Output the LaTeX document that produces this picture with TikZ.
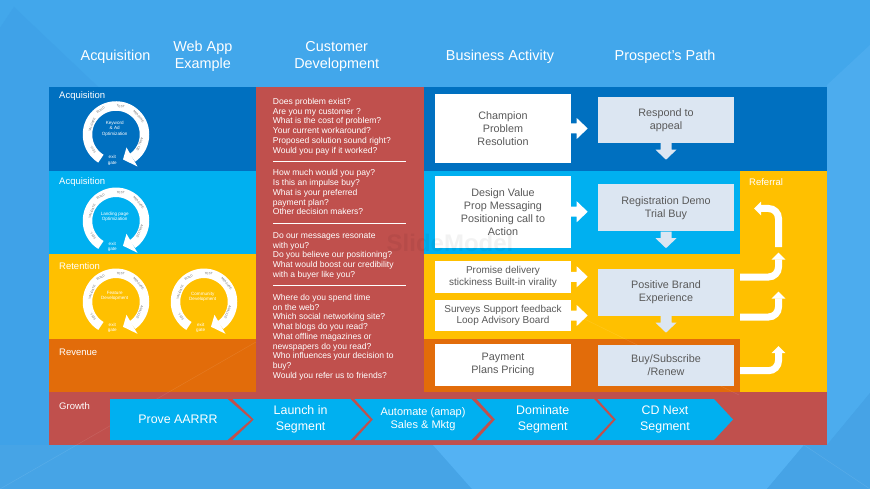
\documentclass[tikz,border=0pt]{standalone}
\usepackage{fontspec}
\setmainfont{Liberation Sans}
\usetikzlibrary{arrows.meta}
\definecolor{bgblue}{RGB}{66,167,235}
\definecolor{bgdark}{RGB}{63,162,232}
\definecolor{bglow}{RGB}{70,164,230}
\definecolor{bglight}{RGB}{84,178,243}
\definecolor{bgside}{RGB}{76,172,238}
\definecolor{bgcorner}{RGB}{70,163,230}
\definecolor{dkblue}{RGB}{0,112,192}
\definecolor{ltblue}{RGB}{0,176,240}
\definecolor{amber}{RGB}{255,192,0}
\definecolor{rust}{RGB}{226,108,10}
\definecolor{brick}{RGB}{192,80,77}
\definecolor{pale}{RGB}{220,230,242}
\definecolor{ink}{RGB}{89,89,89}
\definecolor{ringink}{RGB}{110,110,110}
\newcommand{\fsz}[2]{\fontsize{#1}{#2}\selectfont}
\tikzset{
  head/.style={text=white,font=\fsz{14.4}{17},align=center,inner sep=0pt},
  bandlabel/.style={text=white,font=\fsz{9.5}{11},anchor=west,inner sep=0pt},
  question/.style={text=white,font=\fsz{8.55}{9.77},align=left,anchor=north west,inner sep=0pt},
  sepline/.style={draw=white,line width=0.7pt},
  bizbox/.style={fill=white,text=ink,font=\fsz{10.8}{13},align=center,inner sep=0pt,minimum width=136pt},
  pathbox/.style={fill=pale,text=ink,font=\fsz{10.8}{13},align=center,inner sep=0pt,minimum width=136pt},
  chevtext/.style={text=white,font=\fsz{12.4}{16},align=center,inner sep=0pt},
  chevsmall/.style={font=\fsz{11}{13.4}},
  ringtext/.style={text=white,font=\fsz{4.6}{5.4},align=center,inner sep=0pt},
  ringword/.style={text=ringink,font=\fsz{3.1}{4},inner sep=0pt},
  bendarrow/.style={draw=white,line width=7pt,rounded corners=10pt,-{Triangle[length=7pt,width=13.5pt]}},
  chevfill/.style={fill=ltblue},
  faintline/.style={white,opacity=.1,line width=.5pt}
}
% block arrow to the right of a box
\newcommand{\rightblock}[1]{\fill[white] ([yshift=-5pt]#1.east) -- ++(5.5,0) -- ++(0,5.5) -- ++(11,-10.5) -- ++(-11,-10.5) -- ++(0,5.5) -- ([yshift=5pt]#1.east) -- cycle;}
% block arrow below a box
\newcommand{\downblock}[1]{\fill[pale] ([xshift=-5.5pt]#1.south) -- ++(0,6.5) -- ++(-5,0) -- ++(10.5,10) -- ++(10.5,-10) -- ++(-5,0) -- ([xshift=5.5pt]#1.south) -- cycle;}
% circular arrow: #1 name prefix, #2 x, #3 y, #4 label, #5 y of label, #6 dx of exit gate
\newcommand{\cyclering}[6]{%
  \begin{scope}[shift={(#2,#3)}]
    \draw[white,line width=9.5pt] plot[domain=122:415,samples=80,smooth] ({28.5*cos(\x)},{28.5*sin(\x)});
    \fill[white] (10.5,13) -- (21.5,32) -- (7,25) -- cycle;
    \node[ringword,rotate=68] at (-24,-9.8) {VALIDATE};
    \node[ringword,rotate=32] at (-15.3,-24.2) {BUILD};
    \node[ringword,rotate=-9] at (4.7,-28.2) {TEST};
    \node[ringword,rotate=-51] at (22.7,-18.2) {MEASURE};
    \node[ringword,rotate=-113] at (23.7,10.2) {ANALYZE};
    \node[ringword,rotate=125] at (-23,15.2) {SELL};
    \node[ringtext] (#1c) at (-1.3,#5) {#4};
    \node[ringtext] (#1x) at (#6,26) {exit\\gate};
  \end{scope}}
% chevron: [#1 text style], #2 name, #3 left, #4 notch, #5 shoulder, #6 tip, #7 text centre x, #8 text
\newcommand{\chevron}[8][]{%
  \fill[chevfill] (#3,399) -- (#5,399) -- (#6,419.5) -- (#5,440) -- (#3,440) -- (#4,419.5) -- cycle;
  \node[chevtext,#1] (#2) at (#7,419) {#8};}
\begin{document}
\begin{tikzpicture}[x=1pt,y=-1pt]
\useasboundingbox (0,0) rectangle (870,489);
% background facets
\fill[bgblue] (0,0) rectangle (870,489);
\fill[bgdark] (0,28) -- (14,7) -- (112,100) -- (49,445) -- (0,445) -- cycle;
\fill[bglow] (0,445) rectangle (433,489);
\fill[bglow] (433,445) -- (472,489) -- (433,489) -- cycle;
\fill[bglight] (433,445) -- (804,445) -- (767,489) -- (472,489) -- cycle;
\fill[bgside] (827,85) -- (870,45) -- (870,393) -- (827,445) -- (804,445) -- cycle;
\fill[bgcorner] (870,393) -- (827,445) -- (804,445) -- (767,489) -- (870,489) -- cycle;
% bands
\fill[dkblue] (49,87) rectangle (827,171);
\fill[ltblue] (49,171) rectangle (739.5,254);
\fill[amber] (49,254) rectangle (739.5,339);
\fill[rust] (49,339) rectangle (739.5,392);
\fill[amber] (739.5,171) rectangle (827,392);
\fill[brick] (49,392) rectangle (827,445);
\fill[brick] (256,87) rectangle (424,392);
% faint lines
\draw[faintline] (0,489) -- (256,342);
\draw[faintline] (560,307) -- (739,395);
\draw[faintline] (804,445) -- (870,489);
% headers
\node[head] (h1) at (115.5,56.5) {Acquisition};
\node[head] (h2) at (202.8,56) {Web App\\Example};
\node[head] (h3) at (336.7,56) {Customer\\Development};
\node[head] (h4) at (500,56.5) {Business Activity};
\node[head] (h5) at (665,56.5) {Prospect's Path};
% band labels
\node[bandlabel] (l1) at (59,96.5) {Acquisition};
\node[bandlabel] (l2) at (59,182.5) {Acquisition};
\node[bandlabel] (l3) at (59,266) {Retention};
\node[bandlabel] (l4) at (59,352) {Revenue};
\node[bandlabel] (l5) at (59,406.5) {Growth};
\node[bandlabel] (l6) at (749,182.5) {Referral};
% rings
\cyclering{a}{116}{134.5}{Keyword\\\& Ad\\Optimization}{-6}{-3.7}
\cyclering{b}{116}{220.8}{Landing page\\Optimization}{-3.8}{-3.7}
\cyclering{c}{116}{301.8}{Feature\\Development}{-5.8}{-3.7}
\cyclering{d}{204}{301.8}{Community\\Development}{-4.8}{-3.3}
% questions
\node[question] (q1) at (272.7,98) {Does problem exist?\\Are you my customer ?\\What is the cost of problem?\\Your current workaround?\\Proposed solution sound right?\\Would you pay if it worked?};
\node[question] (q2) at (272.7,169.5) {How much would you pay?\\Is this an impulse buy?\\What is your preferred\\payment plan?\\Other decision makers?};
\node[question] (q3) at (272.7,232.2) {Do our messages resonate\\with you?\\Do you believe our positioning?\\What would boost our credibility\\with a buyer like you?};
\node[question] (q4) at (272.7,293.9) {Where do you spend time\\on the web?\\Which social networking site?\\What blogs do you read?\\What offline magazines or\\newspapers do you read?\\Who influences your decision to\\buy?\\Would you refer us to friends?};
\coordinate (s1a) at (273,161); \coordinate (s1b) at (406,161);
\coordinate (s2a) at (273,223); \coordinate (s2b) at (406,223);
\coordinate (s3a) at (273,285); \coordinate (s3b) at (406,285);
\draw[sepline] (s1a) -- (s1b);
\draw[sepline] (s2a) -- (s2b);
\draw[sepline] (s3a) -- (s3b);
% business boxes
\node[bizbox,minimum height=69pt] (b1) at (503,128.5) {Champion\\Problem\\Resolution};
\node[bizbox,minimum height=71.5pt] (b2) at (503,211.75) {Design Value\\Prop Messaging\\Positioning call to\\Action};
\node[bizbox,minimum height=31.5pt,font=\fsz{10}{12.3}] (b3) at (503,276.75) {Promise delivery\\stickiness Built-in virality};
\node[bizbox,minimum height=31pt,font=\fsz{10}{11}] (b4) at (503,315.5) {Surveys Support feedback\\Loop Advisory Board};
\node[bizbox,minimum height=41.5pt] (b5) at (503,364.75) {Payment\\Plans Pricing};
\rightblock{b1}
\rightblock{b2}
\rightblock{b3}
\rightblock{b4}
% path boxes
\node[pathbox,minimum height=46pt] (p1) at (666,120) {Respond to\\appeal};
\node[pathbox,minimum height=47.5pt] (p2) at (666,207.75) {Registration Demo\\Trial Buy};
\node[pathbox,minimum height=47pt] (p3) at (666,292.5) {Positive Brand\\Experience};
\node[pathbox,minimum height=41.5pt] (p4) at (666,365.25) {Buy/Subscribe\\/Renew};
\downblock{p1}
\downblock{p2}
\downblock{p3}
% bent arrows
\coordinate (r1s) at (778.5,247); \coordinate (r1e) at (754,208.5);
\coordinate (r2s) at (740,277); \coordinate (r2e) at (778.5,252.7);
\coordinate (r3s) at (740,317); \coordinate (r3e) at (778.5,291.7);
\coordinate (r4s) at (740,370.7); \coordinate (r4e) at (778.5,346);
\draw[bendarrow] (r1s) |- (r1e);
\draw[bendarrow] (r2s) -| (r2e);
\draw[bendarrow] (r3s) -| (r3e);
\draw[bendarrow] (r4s) -| (r4e);
% chevrons
\chevron{c1}{110}{110}{227.5}{251}{178}{Prove AARRR}
\chevron{c2}{232.5}{254}{350.5}{370}{300.6}{Launch in\\Segment}
\chevron[chevsmall]{c3}{354.5}{373}{471.5}{491}{423}{Automate (amap)\\Sales \& Mktg}
\chevron{c4}{476.5}{495}{594}{613}{542.7}{Dominate\\Segment}
\chevron{c5}{597.5}{616}{714}{733}{665}{CD Next\\Segment}
% watermark
\node[font=\bfseries\fsz{24}{26},text=black,opacity=.05,inner sep=0pt] (wm) at (450,243) {SlideModel};
\end{tikzpicture}
\end{document}
